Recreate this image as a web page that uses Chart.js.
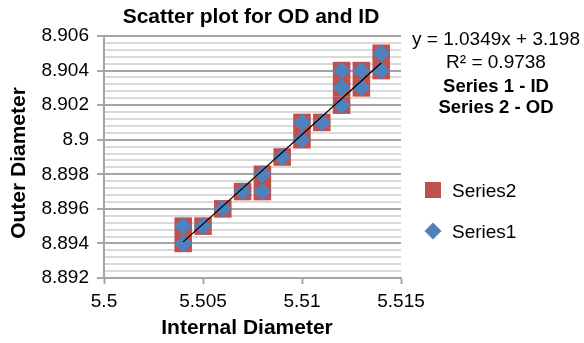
<!DOCTYPE html>
<html>
<head>
<meta charset="utf-8">
<script src="https://cdn.jsdelivr.net/npm/chart.js@4/dist/chart.umd.min.js"></script>
<style>
html,body{margin:0;padding:0;background:#fff;}
#wrap{width:584px;height:343px;}
</style>
</head>
<body>
<div id="wrap"><canvas id="c" width="584" height="343"></canvas></div>
<script>
// ---- data ----
const internalDiameter = [5.504, 5.504, 5.505, 5.506, 5.507, 5.508, 5.508, 5.509, 5.510, 5.510, 5.511, 5.512, 5.512, 5.512, 5.513, 5.513, 5.514, 5.514];
const outerDiameter    = [8.894, 8.895, 8.895, 8.896, 8.897, 8.897, 8.898, 8.899, 8.900, 8.901, 8.901, 8.902, 8.903, 8.904, 8.903, 8.904, 8.904, 8.905];
const seriesNames = ['Series1', 'Series2'];
const xTickLabels = ['5.5', '5.505', '5.51', '5.515'];
const yTickLabels = ['8.892', '8.894', '8.896', '8.898', '8.9', '8.902', '8.904', '8.906'];
const trendSlope = 1.0349;
const trendIntercept = 3.198;
const chartTitle = 'Scatter plot for OD and ID';
const xTitle = 'Internal Diameter';
const yTitle = 'Outer Diameter';
const annotationLines = ['y = 1.0349x + 3.198', 'R\u00B2 = 0.9738', 'Series 1 - ID', 'Series 2 - OD'];

const BLUE = '#4F81BD';
const RED = '#C0504D';
const MAJOR = '#a6a6a6';
const MINOR = '#d9d9d9';
const FONT = '"Liberation Sans", Arial, Helvetica, sans-serif';

const points = internalDiameter.map((x, i) => ({x: x, y: outerDiameter[i]}));
const xMinData = Math.min(...internalDiameter);
const xMaxData = Math.max(...internalDiameter);
const trendPoints = [
  {x: xMinData, y: trendSlope * xMinData + trendIntercept},
  {x: xMaxData, y: trendSlope * xMaxData + trendIntercept}
];

const X_MIN = parseFloat(xTickLabels[0]), X_MAX = parseFloat(xTickLabels[xTickLabels.length - 1]);
const Y_MIN = parseFloat(yTickLabels[0]), Y_MAX = parseFloat(yTickLabels[yTickLabels.length - 1]);
const MINOR_PER_MAJOR = 5;

const textPlugin = {
  id: 'textPlugin',
  afterDraw(chart) {
    const ctx = chart.ctx;
    ctx.save();
    ctx.fillStyle = '#000';
    ctx.textBaseline = 'alphabetic';
    ctx.textAlign = 'center';
    ctx.font = 'bold 21px ' + FONT;
    ctx.fillText(chartTitle, 251, 23);
    ctx.fillText(xTitle, 247, 334);
    ctx.save();
    ctx.translate(25, 163);
    ctx.rotate(-Math.PI / 2);
    ctx.fillText(yTitle, 0, 0);
    ctx.restore();

    // annotations (trendline equation etc.)
    const baselines = [45, 68, 92, 113];
    annotationLines.forEach((t, i) => {
      ctx.font = (i >= 2 ? 'bold 18.5px ' : '19px ') + FONT;
      ctx.fillText(t, 496, baselines[i]);
    });

    // legend: Series2 (square) above Series1 (diamond)
    ctx.textAlign = 'left';
    ctx.font = '19px ' + FONT;
    ctx.fillStyle = RED;
    ctx.fillRect(425, 182, 16, 16);
    ctx.fillStyle = '#000';
    ctx.fillText(seriesNames[1], 452, 196.5);
    ctx.fillStyle = BLUE;
    ctx.beginPath();
    ctx.moveTo(433, 222.5); ctx.lineTo(441.5, 231); ctx.lineTo(433, 239.5); ctx.lineTo(424.5, 231);
    ctx.closePath(); ctx.fill();
    ctx.fillStyle = '#000';
    ctx.fillText(seriesNames[0], 452, 238);
    ctx.restore();
  }
};

new Chart(document.getElementById('c'), {
  type: 'scatter',
  data: {
    datasets: [
      {
        type: 'line',
        label: 'Linear',
        data: trendPoints,
        borderColor: '#000',
        borderWidth: 1.3,
        pointRadius: 0,
        fill: false,
        order: 0
      },
      {
        label: seriesNames[0],
        data: points,
        pointStyle: 'rectRot',
        pointRadius: 9,
        pointHoverRadius: 9,
        backgroundColor: BLUE,
        borderColor: BLUE,
        borderWidth: 0,
        order: 1
      },
      {
        label: seriesNames[1],
        data: points,
        pointStyle: 'rect',
        pointRadius: 12.4,
        pointHoverRadius: 12.4,
        backgroundColor: RED,
        borderColor: RED,
        borderWidth: 0,
        order: 2
      }
    ]
  },
  options: {
    responsive: false,
    animation: false,
    devicePixelRatio: 1,
    layout: {padding: {top: 36, right: 183, left: 0, bottom: 0}},
    plugins: {
      legend: {display: false},
      title: {display: false},
      tooltip: {enabled: false}
    },
    scales: {
      x: {
        type: 'linear',
        min: X_MIN,
        max: X_MAX,
        afterFit(scale) { scale.height = 65; },
        afterBuildTicks(scale) {
          scale.ticks = xTickLabels.map(l => ({value: parseFloat(l)}));
        },
        ticks: {
          padding: 6,
          color: '#000',
          font: {family: FONT, size: 19},
          maxRotation: 0,
          autoSkip: false,
          callback: (v, i) => xTickLabels[i]
        },
        grid: {
          drawOnChartArea: false,
          drawTicks: true,
          tickLength: 6,
          tickColor: MAJOR,
          tickWidth: 2
        },
        border: {display: true, color: MAJOR, width: 2}
      },
      y: {
        type: 'linear',
        min: Y_MIN,
        max: Y_MAX,
        afterFit(scale) { scale.width = 104; },
        afterBuildTicks(scale) {
          const ticks = [];
          const n = (yTickLabels.length - 1) * MINOR_PER_MAJOR;
          for (let k = 0; k <= n; k++) {
            ticks.push({value: Y_MIN + (Y_MAX - Y_MIN) * k / n});
          }
          scale.ticks = ticks;
        },
        ticks: {
          padding: 8,
          color: '#000',
          font: {family: FONT, size: 19},
          autoSkip: false,
          callback: (v, i) => (i % MINOR_PER_MAJOR === 0 ? yTickLabels[i / MINOR_PER_MAJOR] : '')
        },
        grid: {
          drawTicks: true,
          tickLength: 7,
          color: ctx => (ctx.index % MINOR_PER_MAJOR === 0 ? MAJOR : MINOR),
          lineWidth: 2,
          tickColor: ctx => (ctx.index % MINOR_PER_MAJOR === 0 ? MAJOR : 'rgba(0,0,0,0)'),
          tickWidth: 2
        },
        border: {display: true, color: MAJOR, width: 2}
      }
    }
  },
  plugins: [textPlugin]
});
</script>
</body>
</html>
